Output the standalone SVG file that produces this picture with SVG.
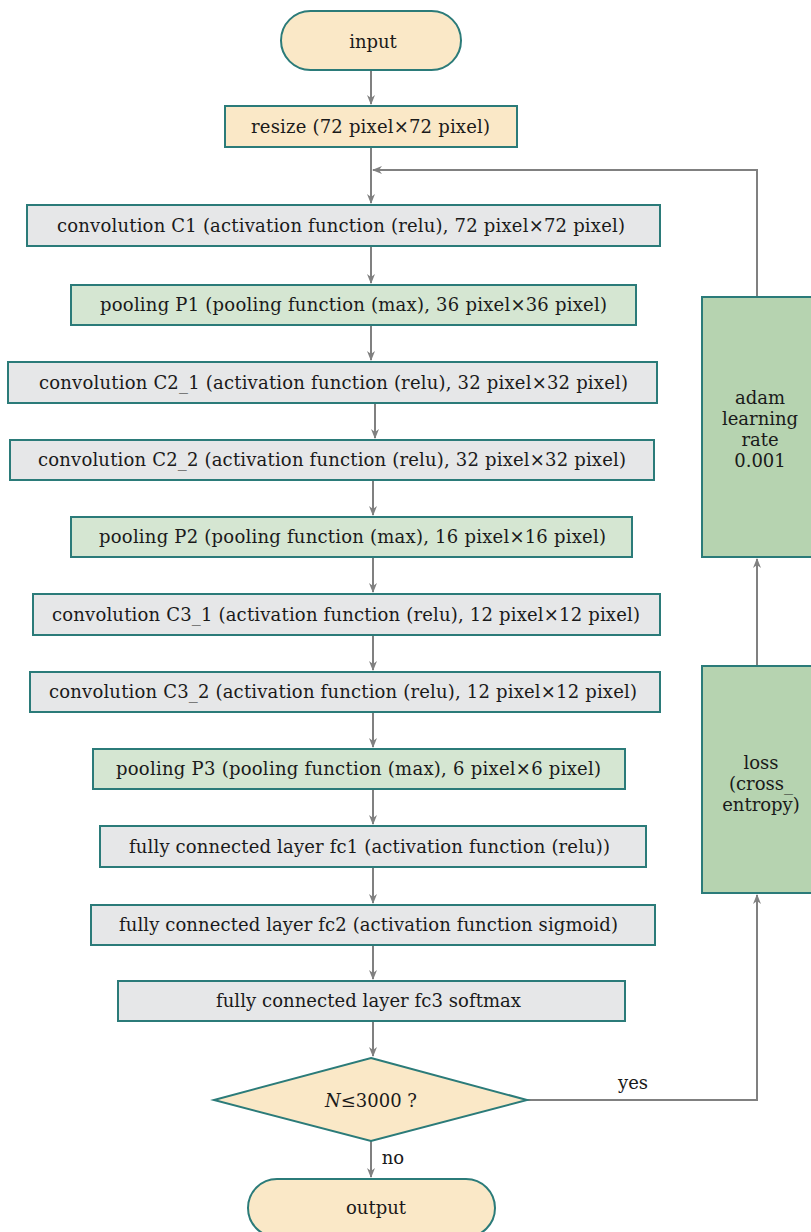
<svg xmlns="http://www.w3.org/2000/svg" width="811" height="1232" viewBox="0 0 811 1232">
<defs>
<marker id="ah" markerWidth="10" markerHeight="10" refX="9" refY="5" orient="auto" markerUnits="userSpaceOnUse">
<path d="M0,1 L10,5 L0,9 L3,5 Z" fill="#808080"/>
</marker>
<style>
.n{stroke:#2b7b79;stroke-width:2}
.b{fill:#fae8c7}
.g{fill:#e6e7e8}
.lg{fill:#d5e6d2}
.dg{fill:#b6d3b0}
text{font-family:"DejaVu Serif","Liberation Serif",serif;font-size:18px;fill:#1a1a1a;text-anchor:middle}
.c{fill:none;stroke:#808080;stroke-width:2}
</style>
</defs>
<rect width="811" height="1232" fill="#ffffff"/>
<g id="connectors">
<line class="c" x1="371" y1="70" x2="371" y2="104" marker-end="url(#ah)"/>
<line class="c" x1="371" y1="147" x2="371" y2="203" marker-end="url(#ah)"/>
<line class="c" x1="371" y1="246" x2="371" y2="283" marker-end="url(#ah)"/>
<line class="c" x1="371" y1="325" x2="371" y2="360" marker-end="url(#ah)"/>
<line class="c" x1="375" y1="403" x2="375" y2="438" marker-end="url(#ah)"/>
<line class="c" x1="373" y1="480" x2="373" y2="515" marker-end="url(#ah)"/>
<line class="c" x1="373" y1="557" x2="373" y2="592" marker-end="url(#ah)"/>
<line class="c" x1="373" y1="635" x2="373" y2="670" marker-end="url(#ah)"/>
<line class="c" x1="373" y1="712" x2="373" y2="747" marker-end="url(#ah)"/>
<line class="c" x1="373" y1="789" x2="373" y2="824" marker-end="url(#ah)"/>
<line class="c" x1="373" y1="867" x2="373" y2="903" marker-end="url(#ah)"/>
<line class="c" x1="373" y1="945" x2="373" y2="979" marker-end="url(#ah)"/>
<line class="c" x1="373" y1="1021" x2="373" y2="1056" marker-end="url(#ah)"/>
<line class="c" x1="371" y1="1141" x2="371" y2="1177" marker-end="url(#ah)"/>
<polyline class="c" points="527,1100 757,1100 757,895" marker-end="url(#ah)"/>
<line class="c" x1="757" y1="666" x2="757" y2="559" marker-end="url(#ah)"/>
<polyline class="c" points="757,297 757,170 373,170" marker-end="url(#ah)"/>
<text x="633" y="1089">yes</text>
<text x="393" y="1164">no</text>
</g>
<g id="input"><rect class="n b" x="281" y="11" width="180" height="59" rx="29.5"/><text x="373" y="48">input</text></g>
<g id="resize"><rect class="n b" x="225" y="106" width="292" height="41"/><text x="370.5" y="133" textLength="239">resize (72 pixel×72 pixel)</text></g>
<g id="c1"><rect class="n g" x="27" y="205" width="633" height="41"/><text x="341" y="232" textLength="568">convolution C1 (activation function (relu), 72 pixel×72 pixel)</text></g>
<g id="p1"><rect class="n lg" x="71" y="285" width="565" height="40"/><text x="353.5" y="311" textLength="507">pooling P1 (pooling function (max), 36 pixel×36 pixel)</text></g>
<g id="c2_1"><rect class="n g" x="8" y="362" width="649" height="41"/><text x="333.5" y="389" textLength="589">convolution C2_1 (activation function (relu), 32 pixel×32 pixel)</text></g>
<g id="c2_2"><rect class="n g" x="10" y="440" width="644" height="40"/><text x="332" y="466" textLength="588">convolution C2_2 (activation function (relu), 32 pixel×32 pixel)</text></g>
<g id="p2"><rect class="n lg" x="71" y="517" width="561" height="40"/><text x="352.5" y="543" textLength="507">pooling P2 (pooling function (max), 16 pixel×16 pixel)</text></g>
<g id="c3_1"><rect class="n g" x="33" y="594" width="627" height="41"/><text x="346" y="621" textLength="588">convolution C3_1 (activation function (relu), 12 pixel×12 pixel)</text></g>
<g id="c3_2"><rect class="n g" x="30" y="672" width="630" height="40"/><text x="343" y="698" textLength="588">convolution C3_2 (activation function (relu), 12 pixel×12 pixel)</text></g>
<g id="p3"><rect class="n lg" x="93" y="749" width="532" height="40"/><text x="358.5" y="775" textLength="485">pooling P3 (pooling function (max), 6 pixel×6 pixel)</text></g>
<g id="fc1"><rect class="n g" x="100" y="826" width="546" height="41"/><text x="369.5" y="853" textLength="481">fully connected layer fc1 (activation function (relu))</text></g>
<g id="fc2"><rect class="n g" x="91" y="905" width="564" height="40"/><text x="368.5" y="931" textLength="499">fully connected layer fc2 (activation function sigmoid)</text></g>
<g id="fc3"><rect class="n g" x="118" y="981" width="507" height="40"/><text x="368.5" y="1007" textLength="305">fully connected layer fc3 softmax</text></g>
<g id="decision"><polygon class="n b" points="371,1058 527,1100 371,1141 214,1100"/><text x="371" y="1107"><tspan font-style="italic">N</tspan>≤3000 ?</text></g>
<g id="output"><rect class="n b" x="248" y="1179" width="247" height="58" rx="29"/><text x="376" y="1214">output</text></g>
<g id="adam"><rect class="n dg" x="702" y="297" width="112" height="260"/><text x="760" y="404">adam</text><text x="760" y="425">learning</text><text x="760" y="446">rate</text><text x="760" y="467">0.001</text></g>
<g id="loss"><rect class="n dg" x="702" y="666" width="112" height="227"/><text x="761" y="769">loss</text><text x="761" y="790">(cross_</text><text x="761" y="811">entropy)</text></g>
</svg>
